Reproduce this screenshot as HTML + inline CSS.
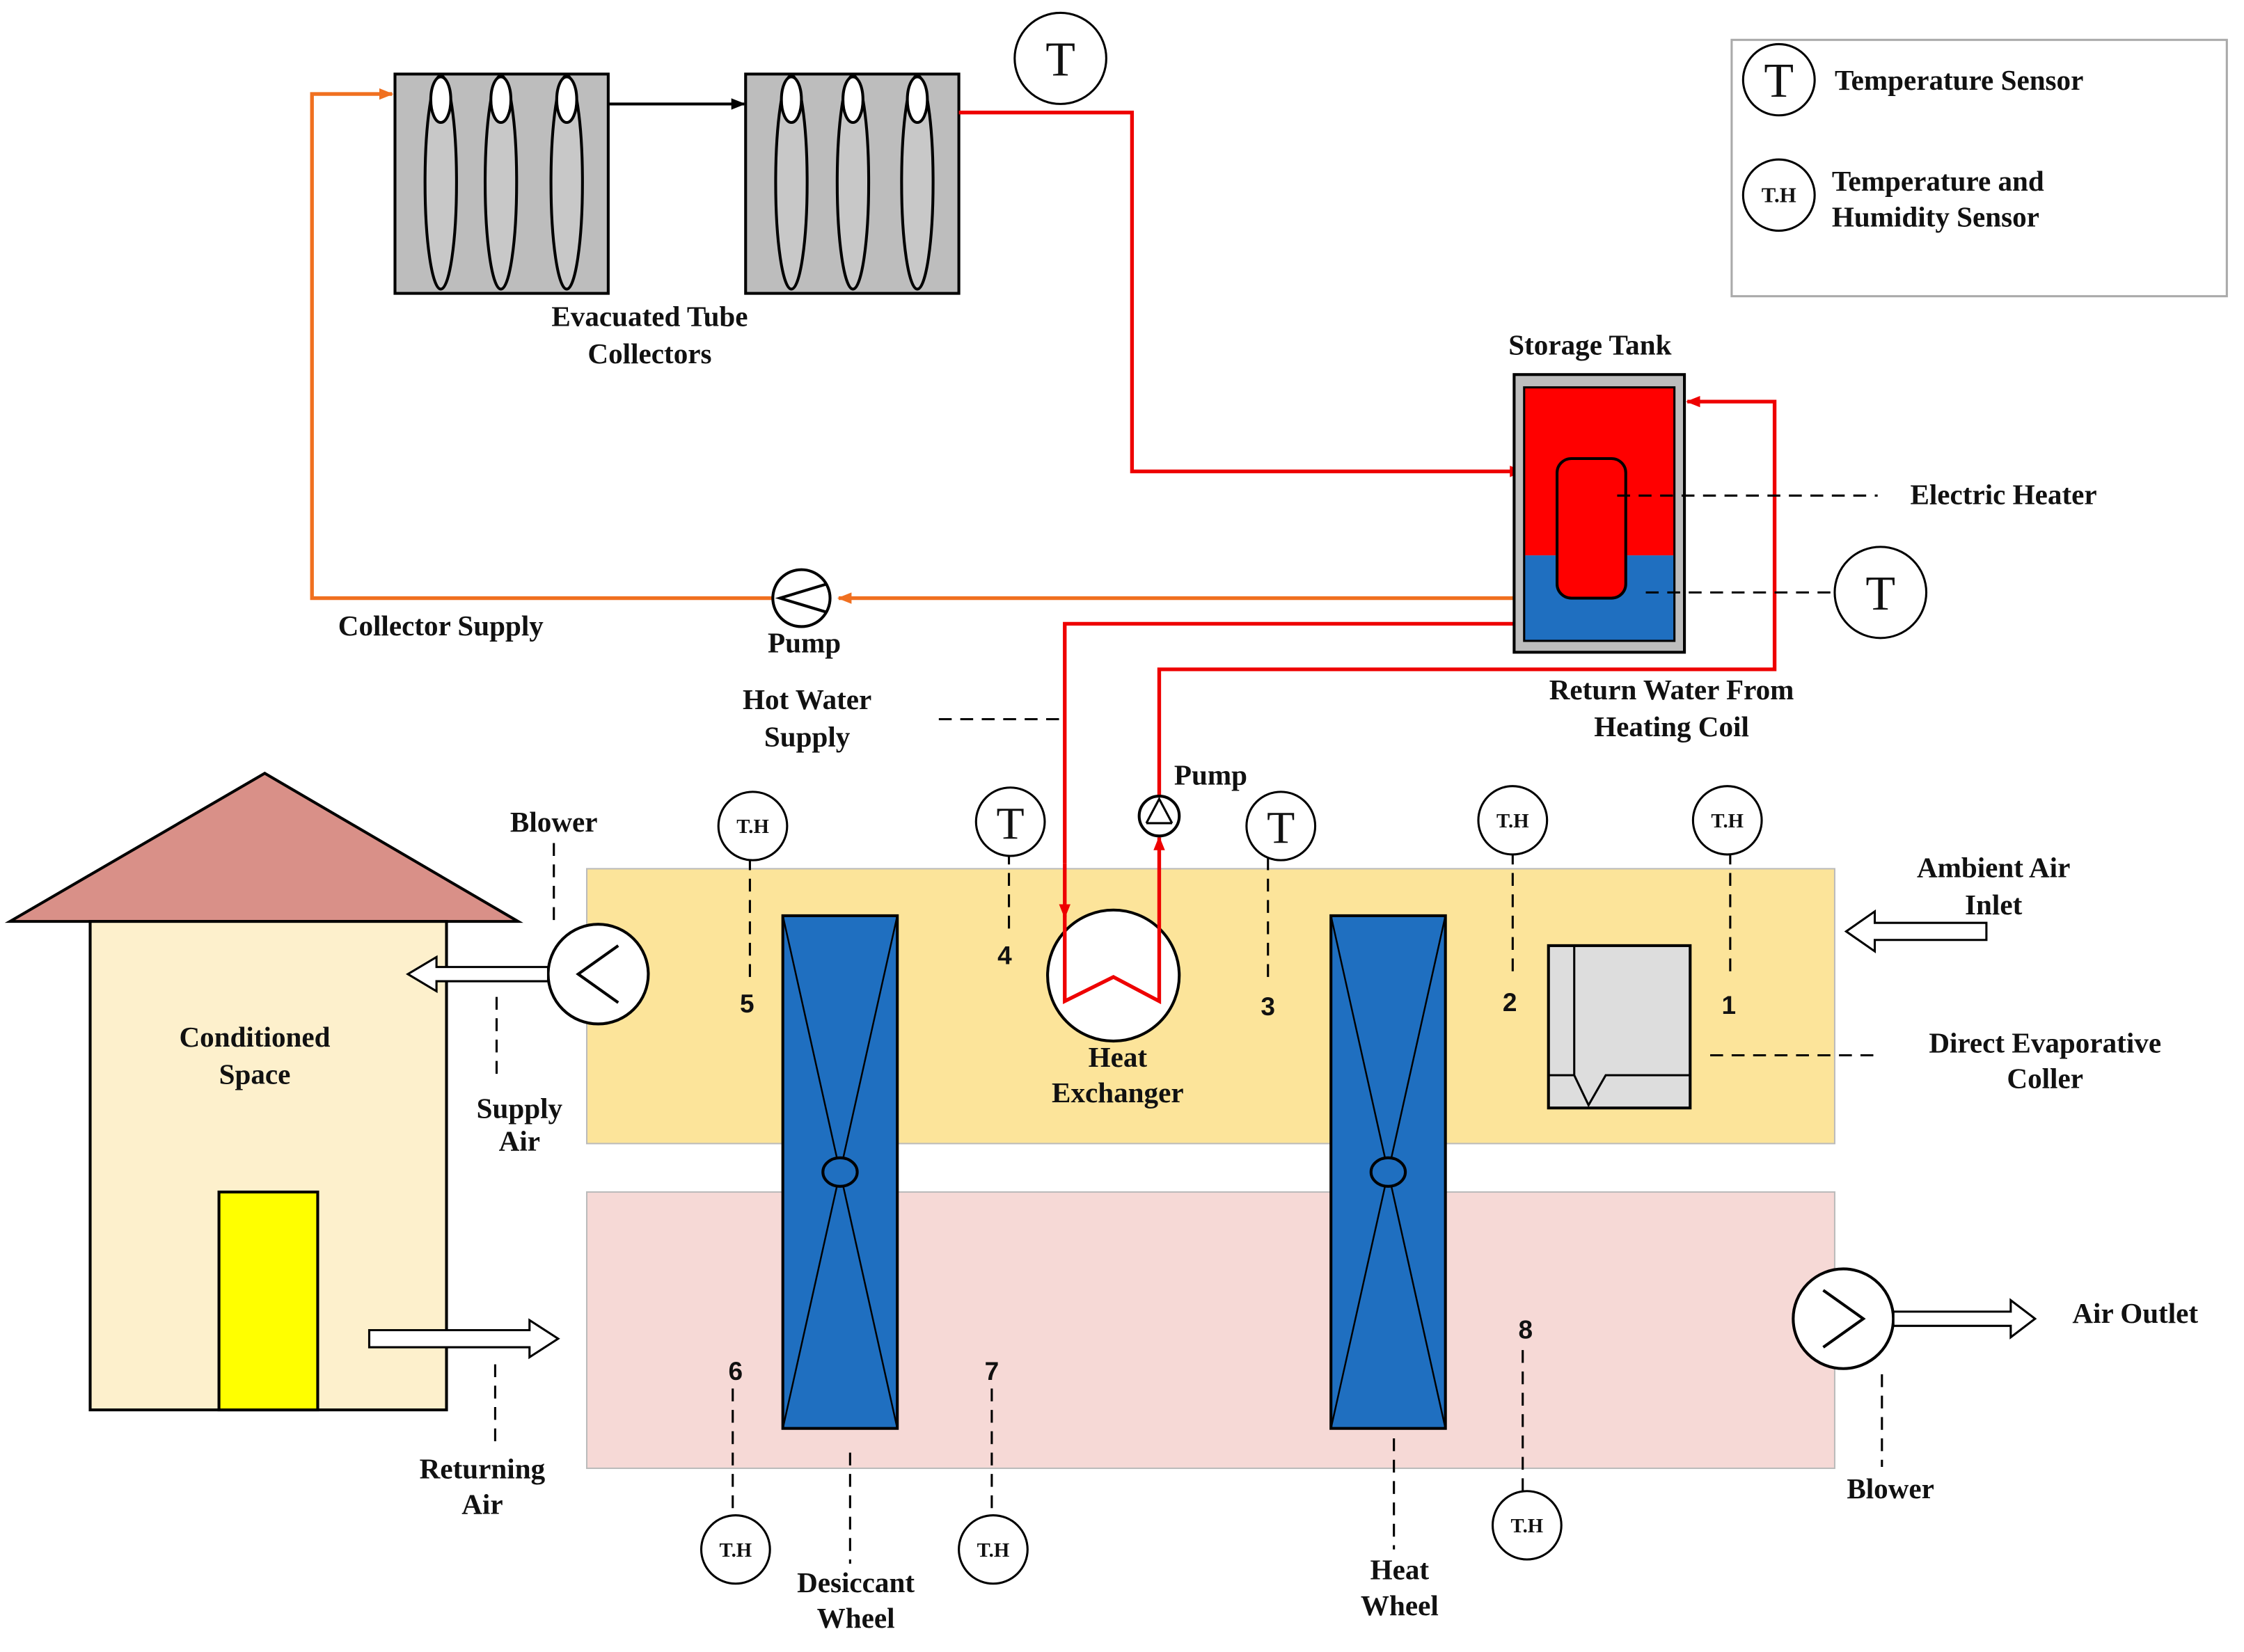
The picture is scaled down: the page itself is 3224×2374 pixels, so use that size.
<!DOCTYPE html>
<html><head><meta charset="utf-8"><style>
html,body{margin:0;padding:0;background:#fff}
svg{display:block}
text{font-family:"Liberation Serif",serif;font-weight:bold;fill:#111}
text.n{font-weight:normal}
</style></head><body>
<svg width="3224" height="2374" viewBox="0 0 1568 1160" preserveAspectRatio="none" xmlns="http://www.w3.org/2000/svg">
<defs>
<marker id="ar" markerWidth="10" markerHeight="10" refX="9" refY="5" orient="auto" markerUnits="userSpaceOnUse"><path d="M0,1 L10,5 L0,9 z" fill="#e00"/></marker>
<marker id="ao" markerWidth="10" markerHeight="10" refX="9" refY="5" orient="auto" markerUnits="userSpaceOnUse"><path d="M0,1 L10,5 L0,9 z" fill="#f07020"/></marker>
<marker id="ab" markerWidth="10" markerHeight="10" refX="9" refY="5" orient="auto" markerUnits="userSpaceOnUse"><path d="M0,1 L10,5 L0,9 z" fill="#000"/></marker>
</defs>
<g stroke="#000" stroke-width="2" fill="none">
<rect x="276" y="52" width="149" height="154" fill="#bdbdbd"/>
<rect x="521" y="52" width="149" height="154" fill="#bdbdbd"/>
<g fill="#c8c8c8">
<ellipse cx="308" cy="128" rx="11" ry="75"/><ellipse cx="350" cy="128" rx="11" ry="75"/><ellipse cx="396" cy="128" rx="11" ry="75"/>
<ellipse cx="553" cy="128" rx="11" ry="75"/><ellipse cx="596" cy="128" rx="11" ry="75"/><ellipse cx="641" cy="128" rx="11" ry="75"/>
</g>
<g fill="#fff">
<ellipse cx="308" cy="70" rx="7" ry="16"/><ellipse cx="350" cy="70" rx="7" ry="16"/><ellipse cx="396" cy="70" rx="7" ry="16"/>
<ellipse cx="553" cy="70" rx="7" ry="16"/><ellipse cx="596" cy="70" rx="7" ry="16"/><ellipse cx="641" cy="70" rx="7" ry="16"/>
</g>
<line x1="425" y1="73" x2="520" y2="73" marker-end="url(#ab)"/>
</g>
<g fill="none" stroke-width="2.6">
<polyline points="1058,420 586,420" stroke="#f07020" marker-end="url(#ao)"/>
<polyline points="540,420 218,420 218,66 274,66" stroke="#f07020" marker-end="url(#ao)"/>
<polyline points="670,79 791,79 791,331 1064,331" stroke="#e00" marker-end="url(#ar)"/>
<polyline points="1058,438 744,438 744,606" stroke="#e00"/>
<polyline points="810,560 810,470 1240,470 1240,282 1179,282" stroke="#e00" marker-end="url(#ar)"/>
</g>
<circle cx="560" cy="420" r="20" fill="#fff" stroke="#000" stroke-width="2"/>
<path d="M578,410 L545,420 L578,430" fill="none" stroke="#000" stroke-width="2"/>
<rect x="1058" y="263" width="119" height="195" fill="#bdbdbd" stroke="#000" stroke-width="2"/>
<rect x="1065" y="272" width="105" height="118" fill="#f00"/>
<rect x="1065" y="390" width="105" height="60" fill="#1f6fc0"/>
<rect x="1065" y="272" width="105" height="178" fill="none" stroke="#000" stroke-width="1.5"/>
<rect x="1088" y="322" width="48" height="98" rx="10" fill="#f00" stroke="#000" stroke-width="2"/>
<g stroke="#000" stroke-width="1.5" stroke-dasharray="9,6" fill="none">
<line x1="1130" y1="348" x2="1312" y2="348"/>
<line x1="1150" y1="416" x2="1280" y2="416"/>
<line x1="656" y1="505" x2="744" y2="505"/>
</g>
<rect x="1210" y="28" width="346" height="180" fill="#fff" stroke="#aaa" stroke-width="1.5"/>
<g fill="#fff" stroke="#000" stroke-width="1.5">
<circle cx="1243" cy="56" r="25"/><circle cx="1243" cy="137" r="25"/>
<circle cx="741" cy="41" r="32"/><circle cx="1314" cy="416" r="32"/>
</g>
<text class="n" x="1243" y="68" font-size="34" text-anchor="middle">T</text>
<text x="1243" y="142" font-size="15" text-anchor="middle">T.H</text>
<text class="n" x="741" y="53" font-size="34" text-anchor="middle">T</text>
<text class="n" x="1314" y="428" font-size="34" text-anchor="middle">T</text>
<text x="1282" y="63" font-size="20">Temperature Sensor</text>
<text x="1280" y="134" font-size="20">Temperature and</text>
<text x="1280" y="159" font-size="20">Humidity Sensor</text>
<g font-size="20" text-anchor="middle">
<text x="454" y="229">Evacuated Tube</text><text x="454" y="255">Collectors</text>
<text x="1111" y="249">Storage Tank</text>
<text x="1400" y="354">Electric Heater</text>
<text x="308" y="446">Collector Supply</text>
<text x="562" y="458">Pump</text>
<text x="564" y="498">Hot Water</text><text x="564" y="524">Supply</text>
<text x="1168" y="491">Return Water From</text><text x="1168" y="517">Heating Coil</text>
<text x="846" y="551">Pump</text>
<text x="387" y="584">Blower</text>
<text x="1393" y="616">Ambient Air</text><text x="1393" y="642">Inlet</text>
<text x="363" y="785">Supply</text><text x="363" y="808">Air</text>
<text x="1492" y="929">Air Outlet</text>
<text x="337" y="1038">Returning</text><text x="337" y="1063">Air</text>
<text x="1321" y="1052">Blower</text>
<text x="598" y="1118">Desiccant</text><text x="598" y="1143">Wheel</text>
<text x="978" y="1109">Heat</text><text x="978" y="1134">Wheel</text>
</g>
<rect x="410" y="610" width="872" height="193" fill="#fce49a" stroke="#bbb" stroke-width="1"/>
<rect x="410" y="837" width="872" height="194" fill="#f6d9d6" stroke="#bbb" stroke-width="1"/>
<polygon points="7,647 185,543 362,647" fill="#d99088" stroke="#000" stroke-width="2"/>
<rect x="63" y="647" width="249" height="343" fill="#fdf0cc" stroke="#000" stroke-width="2"/>
<rect x="153" y="837" width="69" height="153" fill="#ff0" stroke="#000" stroke-width="2"/>
<g font-size="20" text-anchor="middle">
<text x="178" y="735">Conditioned</text><text x="178" y="761">Space</text>
</g>
<g stroke="#000" stroke-width="2">
<rect x="547" y="643" width="80" height="360" fill="#1f6fc0"/>
<rect x="930" y="643" width="80" height="360" fill="#1f6fc0"/>
<path d="M547,643 L627,1003 M627,643 L547,1003 M930,643 L1010,1003 M1010,643 L930,1003" stroke-width="1.2"/>
<ellipse cx="587" cy="823" rx="12" ry="10" fill="#1f6fc0"/>
<ellipse cx="970" cy="823" rx="12" ry="10" fill="#1f6fc0"/>
</g>
<rect x="1082" y="664" width="99" height="114" fill="#ddd" stroke="#000" stroke-width="2"/>
<path d="M1100,664 V755 H1082 M1100,755 L1110,776 L1122,755 H1181" fill="none" stroke="#000" stroke-width="1.5"/>
<!-- heat exchanger -->
<polyline points="744,606 744,644" fill="none" stroke="#e00" stroke-width="2.6" marker-end="url(#ar)"/>
<circle cx="778" cy="685" r="46" fill="#fff" stroke="#000" stroke-width="2"/>
<path d="M744,640 V703 L778,686 L810,703 V588" fill="none" stroke="#e00" stroke-width="2.6" marker-end="url(#ar)"/>
<circle cx="810" cy="573" r="14" fill="#fff" stroke="#000" stroke-width="2"/>
<path d="M801,578 L810,561 L819,578 M801,578 H819" fill="none" stroke="#000" stroke-width="1.5"/>
<circle cx="418" cy="684" r="35" fill="#fff" stroke="#000" stroke-width="2"/>
<path d="M432,664 L404,684 L432,704" fill="none" stroke="#000" stroke-width="2"/>
<polygon points="383,679 305,679 305,672 285,684 305,696 305,689 383,689" fill="#fff" stroke="#000" stroke-width="1.5"/>
<circle cx="1288" cy="926" r="35" fill="#fff" stroke="#000" stroke-width="2"/>
<path d="M1274,906 L1302,926 L1274,946" fill="none" stroke="#000" stroke-width="2"/>
<polygon points="1323,921 1405,921 1405,913 1422,926 1405,939 1405,931 1323,931" fill="#fff" stroke="#000" stroke-width="1.5"/>
<polygon points="258,934 370,934 370,927 390,940 370,953 370,946 258,946" fill="#fff" stroke="#000" stroke-width="1.5"/>
<polygon points="1388,648 1310,648 1310,640 1290,654 1310,668 1310,660 1388,660" fill="#fff" stroke="#000" stroke-width="1.5"/>
<g stroke="#000" stroke-width="1.5" stroke-dasharray="9,6" fill="none">
<line x1="387" y1="592" x2="387" y2="650"/>
<line x1="347" y1="700" x2="347" y2="760"/>
<line x1="346" y1="958" x2="346" y2="1018"/>
<line x1="524" y1="602" x2="524" y2="690"/>
<line x1="705" y1="598" x2="705" y2="658"/>
<line x1="886" y1="602" x2="886" y2="690"/>
<line x1="1057" y1="598" x2="1057" y2="688"/>
<line x1="1209" y1="598" x2="1209" y2="688"/>
<line x1="1195" y1="741" x2="1312" y2="741"/>
<line x1="1315" y1="965" x2="1315" y2="1030"/>
<line x1="512" y1="975" x2="512" y2="1068"/>
<line x1="693" y1="975" x2="693" y2="1068"/>
<line x1="1064" y1="948" x2="1064" y2="1050"/>
<line x1="594" y1="1020" x2="594" y2="1098"/>
<line x1="974" y1="1010" x2="974" y2="1088"/>
</g>
<g fill="#fff" stroke="#000" stroke-width="1.5">
<circle cx="526" cy="580" r="24"/><circle cx="1057" cy="576" r="24"/><circle cx="1207" cy="576" r="24"/>
<circle cx="514" cy="1088" r="24"/><circle cx="694" cy="1088" r="24"/><circle cx="1067" cy="1071" r="24"/>
<circle cx="706" cy="577" r="24"/><circle cx="895" cy="580" r="24"/>
</g>
<g font-size="14" text-anchor="middle">
<text x="526" y="585">T.H</text><text x="1057" y="581">T.H</text><text x="1207" y="581">T.H</text>
<text x="514" y="1093">T.H</text><text x="694" y="1093">T.H</text><text x="1067" y="1076">T.H</text>
</g>
<text class="n" x="706" y="589" font-size="32" text-anchor="middle">T</text>
<text class="n" x="895" y="592" font-size="32" text-anchor="middle">T</text>
<g font-size="18" text-anchor="middle">
<text x="522" y="711" style="font-family:'Liberation Sans',sans-serif">5</text>
<text x="702" y="677" style="font-family:'Liberation Sans',sans-serif">4</text>
<text x="886" y="713" style="font-family:'Liberation Sans',sans-serif">3</text>
<text x="1055" y="710" style="font-family:'Liberation Sans',sans-serif">2</text>
<text x="1208" y="712" style="font-family:'Liberation Sans',sans-serif">1</text>
<text x="514" y="969" style="font-family:'Liberation Sans',sans-serif">6</text>
<text x="693" y="969" style="font-family:'Liberation Sans',sans-serif">7</text>
<text x="1066" y="940" style="font-family:'Liberation Sans',sans-serif">8</text>
</g>
<g font-size="20" text-anchor="middle">
<text x="781" y="749">Heat</text><text x="781" y="774">Exchanger</text>
<text x="1429" y="739">Direct Evaporative</text><text x="1429" y="764">Coller</text>
</g>
</svg>
</body></html>
